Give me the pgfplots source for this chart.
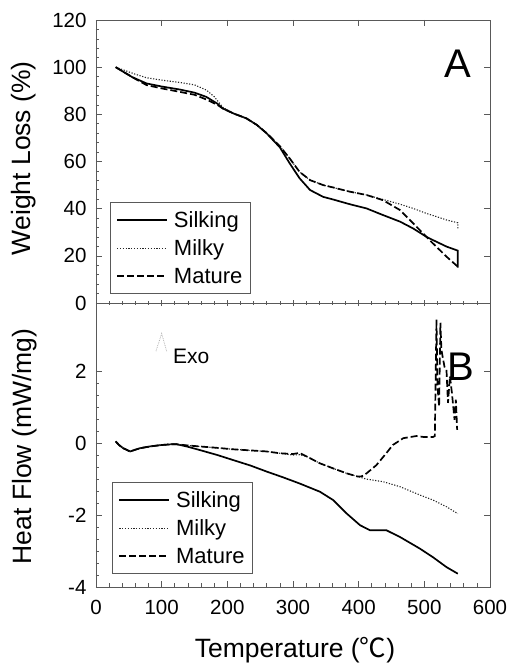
\documentclass[border=0pt]{standalone}
\usepackage{pgfplots}
\pgfplotsset{compat=1.18}
\usepackage{fontspec}
\setmainfont{Liberation Sans}
\newfontfamily\cjk{Noto Sans CJK SC}

\begin{document}
\begin{tikzpicture}
\pgfplotsset{
  base/.style={
    scale only axis, width=394pt, xmin=0, xmax=600,
    axis line style={gray!70!black, line width=0.8pt},
    every tick/.style={gray!70!black, line width=0.6pt},
    major tick length=6pt, minor tick length=3.5pt,
    tick label style={font=\fontsize{20.5}{24}\selectfont},
    /pgf/number format/assume math mode=true,
    label style={font=\fontsize{26.5}{30}\selectfont},
    xticklabel style={yshift=-10pt},
    yticklabel style={xshift=-6pt},
    legend cell align=left,
    legend style={draw=gray!70!black, line width=0.6pt, font=\fontsize{22}{26.5}\selectfont, inner xsep=6pt, inner ysep=7pt, row sep=7pt, column sep=4pt},
    legend image code/.code={\draw[##1] (0pt,0pt) -- (50pt,0pt);},
  },
  sil/.style={black, line width=1.7pt},
  mil/.style={black!85, line width=1.1pt, dash pattern=on 1.2pt off 1.6pt},
  mat/.style={black, line width=1.7pt, dash pattern=on 7pt off 3pt},
}
% ---------- Panel A ----------
\begin{axis}[base, name=A, at={(0,0)}, anchor=south west, height=283pt,
  ymin=0, ymax=120, ytick={0,20,...,120}, xtick={0,100,...,600}, xticklabels={},
  minor x tick num=4, minor y tick num=4, xtick pos=bottom, ytick pos=left, xtick align=center,
  ylabel={Weight Loss (\%)},
  ylabel style={at={(axis description cs:-0.183,0.512)}, anchor=center},
  legend style={at={(axis description cs:0.0355,0.032)}, anchor=south west}]
\addplot[sil] coordinates {(30,100) (40,98.3) (55,95.8) (77,93.1) (100,91.8) (128,90.5) (150,89.2) (168,87.4) (185,84.5) (193,82.5) (210,80.3) (229,78.3) (245,75.5) (260,71.9) (280,66) (295,59.2) (310,52.9) (326,47.9) (346,45.0) (361,43.9) (385,42) (412,40.1) (437,37.3) (463,34.5) (483,31.6) (503,28.1) (513,26.7) (534,23.9) (551,22.2) (551,15)};
\addplot[mil] coordinates {(30,100) (45,98.5) (60,97) (77,95.5) (100,94.5) (128,93.5) (150,92.5) (168,90.3) (180,87.5) (193,83) (210,80.3) (229,78.3) (245,75.5) (260,72) (280,66.5) (295,61.3) (310,55.6) (326,52.1) (346,50) (361,49) (385,47.3) (412,45.8) (437,43.9) (463,41.9) (483,40.1) (503,38.0) (520,36.5) (534,35.2) (551,34.0) (551,31)};
\addplot[mat] coordinates {(30,100) (45,97.5) (60,95) (77,92.4) (100,91) (128,89.5) (150,88.3) (168,86.3) (185,84) (193,82.5) (210,80.3) (229,78.3) (245,75.5) (260,72) (280,66.5) (295,61.3) (310,55.6) (326,52.1) (346,50) (361,49) (385,47.3) (412,45.8) (437,43.6) (463,39.4) (483,33.8) (503,28.1) (513,25.3) (534,19.6) (551,15.4)};
\legend{Silking, Milky, Mature}
\node[font=\fontsize{40}{42}\selectfont, inner sep=0pt] at (axis cs:551,101.5) {A};
\end{axis}
\begin{axis}[base, at={(0,0)}, anchor=south west, height=283pt,
  ymin=0, ymax=120, axis x line*=top, axis y line*=right, tick align=inside,
  xtick={100,200,...,500}, ytick={20,40,...,100}, xticklabels={}, yticklabels={}]
\end{axis}
% ---------- Panel B ----------
\begin{axis}[base, name=B, at={(0,0)}, anchor=north west, height=284pt,
  ymin=-4, ymax=3.9, ytick={-4,-2,0,2}, xtick={0,100,...,600},
  minor x tick num=4, minor y tick num=5, xtick pos=bottom, ytick pos=left,
  ylabel={Heat Flow (mW/mg)},
  ylabel style={at={(axis description cs:-0.180,0.495)}, anchor=center},
  xlabel={Temperature ({\cjk ℃})},
  xlabel style={at={(axis description cs:0.505,-0.222)}, anchor=center},
  legend style={at={(axis description cs:0.041,0.046)}, anchor=south west}]
\addplot[sil] coordinates {(30,0.05) (35,-0.05) (41.5,-0.14) (52,-0.23) (60,-0.18) (67,-0.14) (82,-0.09) (100,-0.05) (115,-0.03) (123,-0.03) (138,-0.09) (158,-0.19) (185,-0.33) (209,-0.47) (235,-0.62) (260,-0.79) (285,-0.95) (310,-1.12) (341,-1.35) (361,-1.58) (382,-1.96) (402,-2.28) (417,-2.42) (442,-2.42) (463,-2.61) (493,-2.93) (513,-3.17) (534,-3.45) (551,-3.63)};
\addplot[mil] coordinates {(30,0.05) (35,-0.05) (41.5,-0.14) (52,-0.23) (60,-0.18) (67,-0.14) (82,-0.09) (100,-0.05) (115,-0.03) (123,-0.03) (138,-0.06) (158,-0.09) (185,-0.13) (209,-0.17) (235,-0.2) (260,-0.23) (280,-0.28) (300,-0.33) (310,-0.32) (321,-0.37) (341,-0.56) (361,-0.70) (382,-0.84) (399,-0.93) (412,-1.0) (437,-1.07) (463,-1.21) (493,-1.44) (513,-1.58) (534,-1.77) (551,-1.96)};
\addplot[mat] coordinates {(30,0.05) (35,-0.05) (41.5,-0.14) (52,-0.23) (60,-0.18) (67,-0.14) (82,-0.09) (100,-0.05) (115,-0.03) (123,-0.03) (138,-0.06) (158,-0.09) (185,-0.13) (209,-0.17) (235,-0.2) (260,-0.23) (280,-0.28) (300,-0.3) (310,-0.27) (321,-0.37) (341,-0.56) (361,-0.70) (382,-0.84) (399,-0.93) (405,-0.92) (412,-0.84) (427,-0.61) (442,-0.28) (452,-0.05) (468,0.14) (488,0.20) (500,0.17) (513,0.17) (516,0.2) (518.5,3.44) (520,1.6) (522.5,1.02) (524.5,3.35) (526,2.6) (528.6,2.33) (531,2.1) (533.7,2.05) (536,1.12) (539,1.86) (542,1.4) (546,0.65) (548,1.21) (550,0.37)};
\legend{Silking, Milky, Mature}
\node[font=\fontsize{40}{42}\selectfont, inner sep=0pt] at (axis cs:555,2.14) {B};
\node[font=\fontsize{21}{23}\selectfont, inner sep=0pt, anchor=west] at (axis cs:117,2.41) {Exo};
\draw[gray!60, densely dotted, line width=0.8pt] (axis cs:91.3,2.56) -- (axis cs:100,3.05) -- (axis cs:107.6,2.56);
\end{axis}
\begin{axis}[base, at={(0,0)}, anchor=north west, height=284pt,
  ymin=-4, ymax=3.9, axis y line*=right, axis x line=none, tick align=inside,
  ytick={-2,0,2}, yticklabels={}]
\end{axis}
\pgfresetboundingbox
\path (-96pt,-361pt) rectangle (414pt,303pt);
\end{tikzpicture}
\end{document}
